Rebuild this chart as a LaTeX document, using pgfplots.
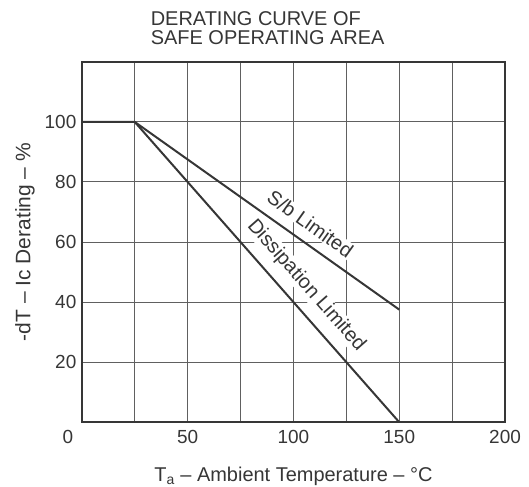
\documentclass[border=0pt]{standalone}
\usepackage{fontspec}
\setmainfont{Liberation Sans}
\usepackage{pgfplots}
\pgfplotsset{compat=1.18}
\definecolor{ink}{HTML}{363636}
\definecolor{gridc}{HTML}{606060}
\begin{document}
\begin{tikzpicture}
\begin{axis}[
  name=ax,
  scale only axis,
  width=424pt, height=361pt,
  xmin=0, xmax=200, ymin=0, ymax=120,
  xtick={0,25,...,200},
  xticklabels={,,50,,100,,150,,200},
  ytick={0,20,...,120},
  yticklabels={,20,40,60,80,100,},
  major tick length=0pt,
  grid=major,
  grid style={gridc, line width=1pt},
  axis line style={ink, line width=1.5pt},
  tick label style={ink, font=\fontsize{19}{20}\selectfont},
  /pgf/number format/assume math mode=true,
  xticklabel style={yshift=-5pt},
  yticklabel style={xshift=-2pt},
  xlabel={T\textsubscript{a} – Ambient Temperature – °C},
  ylabel={-dT – Ic Derating – \%},
  xlabel style={ink, font=\fontsize{20}{22}\selectfont, yshift=-16pt},
  ylabel style={ink, font=\fontsize{21}{22}\selectfont, yshift=3pt},
  clip=false,
]
\addplot[ink, line width=2pt] coordinates {(0,100) (25,100) (150,37.5)};
\addplot[ink, line width=2pt] coordinates {(25,100) (150,0)};
\node[ink, fill=white, inner sep=1pt, rotate=-35.4, font=\fontsize{20}{22}\selectfont] at (axis cs:108,66) {S/b Limited};
\node[ink, fill=white, inner sep=1pt, rotate=-48.6, font=\fontsize{20}{22}\selectfont] at (axis cs:106,45.5) {Dissipation Limited};
\node[ink, anchor=north, yshift=-5pt, font=\fontsize{19}{20}\selectfont] at (axis cs:-6.6,0) {0};
\node[ink, align=left, anchor=south west, inner sep=0pt, yshift=17pt, font=\fontsize{20}{19}\selectfont] at (axis cs:32.5,120) {DERATING CURVE OF\\SAFE OPERATING AREA};
\end{axis}
\pgfresetboundingbox
\path[use as bounding box] ([shift={(-82pt,-64pt)}]ax.south west) rectangle ([shift={(24pt,62pt)}]ax.north east);
\end{tikzpicture}
\end{document}
